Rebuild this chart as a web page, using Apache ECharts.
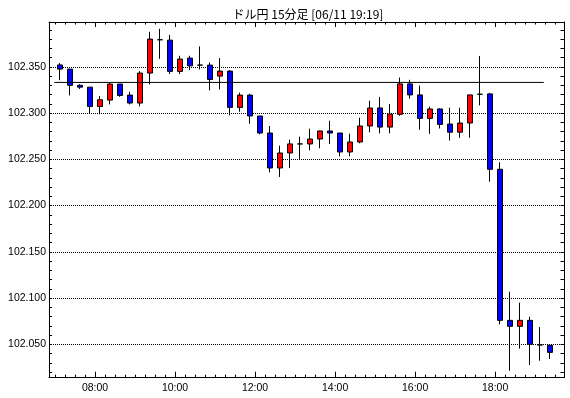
<!DOCTYPE html>
<html>
<head>
<meta charset="utf-8">
<script src="https://cdn.jsdelivr.net/npm/echarts@6/dist/echarts.min.js"></script>
<style>
html,body{margin:0;padding:0;background:#fff;}
#chart{width:570px;height:398px;}
</style>
</head>
<body>
<div id="chart"></div>
<script>
// ---- data ----
var title = 'ドル円 15分足 [06/11 19:19]';
var times = ['07:00','07:15','07:30','07:45','08:00','08:15','08:30','08:45','09:00','09:15',
             '09:30','09:45','10:00','10:15','10:30','10:45','11:00','11:15','11:30','11:45',
             '12:00','12:15','12:30','12:45','13:00','13:15','13:30','13:45','14:00','14:15',
             '14:30','14:45','15:00','15:15','15:30','15:45','16:00','16:15','16:30','16:45',
             '17:00','17:15','17:30','17:45','18:00','18:15','18:30','18:45','19:00','19:15'];
var opens  = [102.3520,102.3475,102.3300,102.3280,102.3070,102.3140,102.3313,102.3194,102.3108,102.3432,
              102.3792,102.3788,102.3450,102.3594,102.3518,102.3518,102.3399,102.3453,102.3061,102.3194,
              102.2968,102.2784,102.2406,102.2568,102.2666,102.2666,102.2719,102.2806,102.2784,102.2579,
              102.2687,102.2860,102.3055,102.2848,102.2986,102.3315,102.3196,102.2942,102.3044,102.2881,
              102.2793,102.2892,102.3203,102.3207,102.2392,102.0759,102.0694,102.0759,102.0493,102.0489];
var closes = [102.3475,102.3300,102.3280,102.3070,102.3144,102.3313,102.3190,102.3108,102.3432,102.3799,
              102.3792,102.3450,102.3583,102.3510,102.3518,102.3363,102.3453,102.3061,102.3194,102.2968,
              102.2784,102.2406,102.2568,102.2666,102.2666,102.2719,102.2806,102.2784,102.2579,102.2687,
              102.2860,102.3054,102.2848,102.2989,102.3315,102.3196,102.2942,102.3044,102.2877,102.2793,
              102.2892,102.3196,102.3203,102.2391,102.0759,102.0694,102.0759,102.0500,102.0493,102.0413];
var lows   = [102.3355,102.3190,102.3260,102.3000,102.2986,102.3093,102.3176,102.3093,102.3072,102.3310,
              102.3586,102.3421,102.3421,102.3464,102.3471,102.3245,102.3255,102.2975,102.3014,102.2885,
              102.2770,102.2359,102.2309,102.2406,102.2504,102.2597,102.2619,102.2666,102.2532,102.2532,
              102.2673,102.2791,102.2780,102.2780,102.2971,102.3156,102.2819,102.2775,102.2833,102.2703,
              102.2732,102.2733,102.3083,102.2257,102.0716,102.0215,102.0453,102.0276,102.0323,102.0341];
var highs  = [102.3540,102.3475,102.3310,102.3280,102.3183,102.3330,102.3313,102.3230,102.3453,102.3878,
              102.3910,102.3845,102.3619,102.3619,102.3720,102.3547,102.3594,102.3464,102.3220,102.3209,
              102.2968,102.2860,102.2647,102.2712,102.2745,102.2831,102.2810,102.2917,102.2784,102.2777,
              102.2950,102.3133,102.3174,102.3098,102.3384,102.3359,102.3297,102.3069,102.3052,102.3058,
              102.3058,102.3196,102.3616,102.3218,102.2468,102.1069,102.0950,102.0799,102.0687,102.0489];
var refLevel = 102.3331;            // horizontal reference line
var refFrom = '06:59', refTo = '19:13';
var xTickLabels = ['08:00','10:00','12:00','14:00','16:00','18:00'];
var yTickLabels = ['102.050','102.100','102.150','102.200','102.250','102.300','102.350'];
var axisStart = '06:51', axisEnd = '19:44';
var yMin = 102.0139, yMax = 102.3984;

// ---- helpers ----
function toMin(t){ var p = t.split(':'); return (+p[0])*60 + (+p[1]); }
function fmtMin(m){ var h = Math.floor(m/60), mm = m%60; return (h<10?'0':'')+h+':'+(mm<10?'0':'')+mm; }
var step = 15;
var candleData = times.map(function(t,i){
  return [toMin(t) + step/2, opens[i], closes[i], lows[i], highs[i]];
});
var boundaries = times.map(toMin);
boundaries.push(toMin(times[times.length-1]) + step);
var majorX = xTickLabels.map(toMin);
var yLabelVals = yTickLabels.map(parseFloat);
var yMinor = [];
for (var k = Math.ceil(yMin*100); k <= Math.floor(yMax*100); k++) yMinor.push(k/100);

var xMin = toMin(axisStart), xMax = toMin(axisEnd);
var FONT = 'Liberation Sans';

function xAx(pos, ticks, len, showLine, labels){
  return {
    type:'value', position:pos, min:xMin, max:xMax,
    axisLine:{show:showLine, onZero:false, lineStyle:{color:'#000', width:1}},
    axisTick:{show:true, inside:true, length:len, customValues:ticks, lineStyle:{color:'#000', width:1}},
    axisLabel: labels ? {show:true, customValues:majorX, formatter:function(v){return fmtMin(v);},
                         color:'#000', fontFamily:FONT, fontSize:10.5, margin:5} : {show:false},
    splitLine:{show:false}
  };
}

var chart = echarts.init(document.getElementById('chart'), null, {renderer:'canvas'});
chart.setOption({
  animation:false,
  backgroundColor:'#fff',
  title:{text:title, left:303, top:3, textAlign:'center',
         textStyle:{fontFamily:'Noto Sans CJK JP', fontSize:12, fontWeight:'normal', color:'#000'}},
  grid:{left:49, right:5.5, top:22, bottom:20.3, containLabel:false},
  xAxis:[
    xAx('bottom', boundaries, 3, true, true),
    xAx('bottom', majorX, 6, false, false),
    xAx('top', boundaries, 2.5, true, false),
    xAx('top', majorX, 5, false, false)
  ],
  yAxis:[
    {type:'value', position:'left', min:yMin, max:yMax,
     axisLine:{show:true, onZero:false, lineStyle:{color:'#000', width:1}},
     axisTick:{show:true, inside:true, length:3, customValues:yMinor, lineStyle:{color:'#000'}},
     axisLabel:{show:true, customValues:yLabelVals, formatter:function(v){return v.toFixed(3);},
                color:'#000', fontFamily:FONT, fontSize:10.5, margin:3},
     splitLine:{show:false}},
    {type:'value', position:'right', min:yMin, max:yMax,
     axisLine:{show:true, onZero:false, lineStyle:{color:'#000', width:1}},
     axisTick:{show:true, inside:true, length:4, customValues:yMinor, lineStyle:{color:'#000'}},
     axisLabel:{show:false}, splitLine:{show:false}}
  ],
  series:[
    {
      type:'candlestick', xAxisIndex:0, yAxisIndex:0, z:2,
      barWidth:5,
      data:candleData,
      encode:{x:0, y:[1,2,3,4]},
      itemStyle:{color:'#ff0000', color0:'#0000ff', borderColor:'#000000', borderColor0:'#000000',
                 borderColorDoji:'#000000', borderWidth:1},
      emphasis:{disabled:true},
      markLine:{
        z:1, silent:true, symbol:['none','none'], animation:false,
        label:{show:false},
        lineStyle:{color:'#000', width:1, type:[1,1]},
        emphasis:{disabled:true},
        data:yLabelVals.map(function(v){ return {yAxis:v}; })
      }
    },
    {
      type:'line', xAxisIndex:0, yAxisIndex:0, z:3,
      symbol:'none', silent:true,
      lineStyle:{color:'#000', width:1},
      data:[[toMin(refFrom), refLevel],[toMin(refTo), refLevel]]
    }
  ]
});
</script>
</body>
</html>
